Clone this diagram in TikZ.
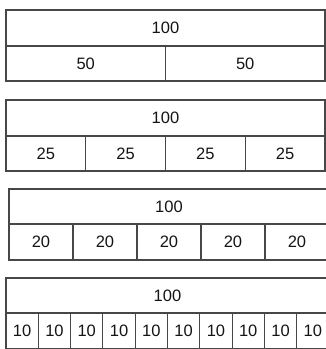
\documentclass[tikz,border=0pt]{standalone}
\usepackage{fontspec}
\setmainfont{Liberation Sans}
\begin{document}
\begin{tikzpicture}[x=1pt,y=-1pt,
  cell/.style={draw=black!72,line width=1.1pt,rectangle,inner sep=0pt,outer sep=0pt,
    anchor=north west,font=\fontsize{16.5}{19}\selectfont,text=black!92}]
\useasboundingbox (0,0) rectangle (326,349);
\clip (0,0) rectangle (326,349);
% row 1
\node[cell,minimum width=319pt,minimum height=36pt] (r1top) at (6,10) {100};
\foreach \i in {0,1} {
  \node[cell,minimum width=159.5pt,minimum height=35pt] (r1c\i) at ({6+159.5*\i},46) {50};
}
% row 2
\node[cell,minimum width=319pt,minimum height=36pt] (r2top) at (6,100) {100};
\foreach \i in {0,...,3} {
  \node[cell,minimum width=79.75pt,minimum height=35pt] (r2c\i) at ({6+79.75*\i},136) {25};
}
% row 3
\node[cell,minimum width=320pt,minimum height=35pt] (r3top) at (9,189) {100};
\foreach \i in {0,...,4} {
  \node[cell,minimum width=64pt,minimum height=36pt] (r3c\i) at ({9+64*\i},224) {20};
}
% row 4
\node[cell,minimum width=323pt,minimum height=35pt] (r4top) at (6,278) {100};
\foreach \i in {0,...,9} {
  \node[cell,minimum width=32.3pt,minimum height=36pt] (r4c\i) at ({6+32.3*\i},313) {10};
}
\end{tikzpicture}
\end{document}
